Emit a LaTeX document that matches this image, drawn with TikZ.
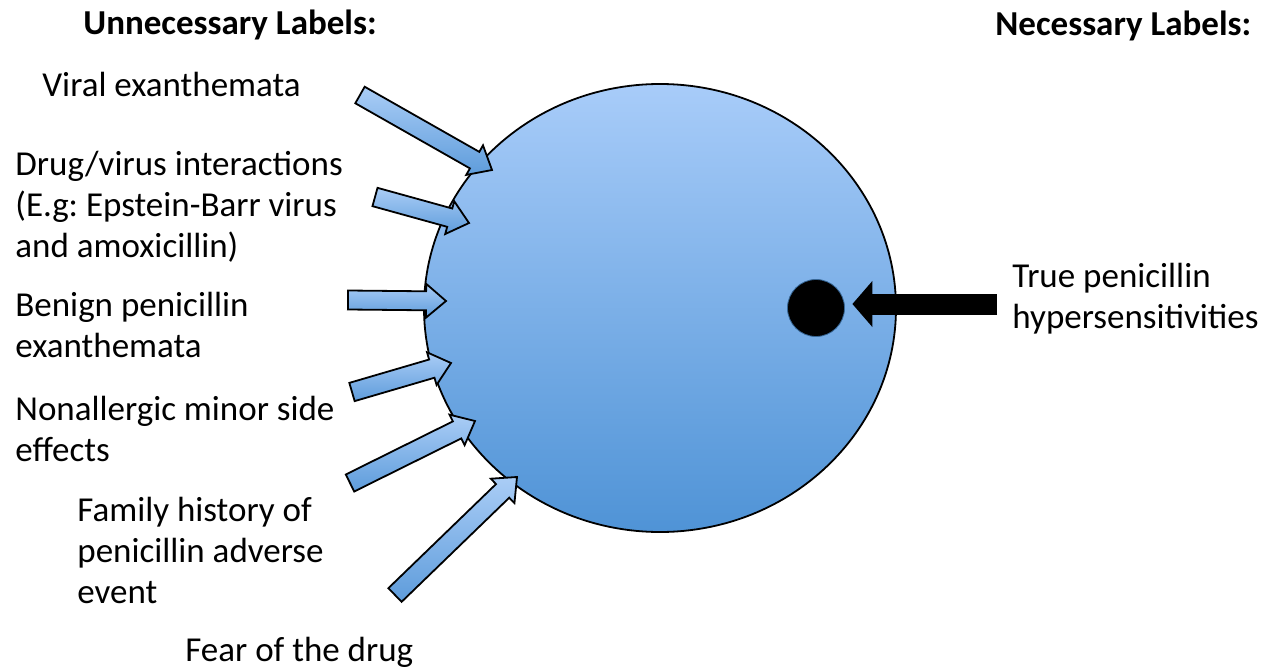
\documentclass[tikz,border=0pt]{standalone}
\usepackage{fontspec}
\setmainfont{Carlito}
\usepackage{xcolor}
\usepackage{tikz}
\usetikzlibrary{arrows.meta,positioning,calc,shapes.geometric}
\definecolor{balltop}{HTML}{A8CCF9}
\definecolor{ballbot}{HTML}{4F93D6}
\definecolor{arrtop}{HTML}{AACDF6}
\definecolor{arrbot}{HTML}{5E9CDB}
\frenchspacing
\tikzset{
  lbl/.style={anchor=base west,inner sep=0pt,align=left,font=\fontsize{17.5}{20.5}\selectfont},
  bluearr/.style={top color=arrtop,bottom color=arrbot,draw=black,line width=0.9pt,line join=miter}
}
\newcommand{\bluearrow}[2]{%
  \coordinate (nk) at ($(#2)!10pt!(#1)$);
  \shadedraw[bluearr] ($(#1)!4.75pt!90:(#2)$) -- ($(nk)!4.75pt!90:(#2)$) -- ($(nk)!8.5pt!90:(#2)$)
    -- (#2) -- ($(nk)!8.5pt!-90:(#2)$) -- ($(nk)!4.75pt!-90:(#2)$) -- ($(#1)!4.75pt!-90:(#2)$) -- cycle;
}

\begin{document}
\begin{tikzpicture}[x=0.5pt,y=-0.5pt,>=Latex]
        \useasboundingbox (0,0) rectangle (1276,669);
        \node[lbl,font=\fontsize{17.5}{20.5}\selectfont\bfseries] (unnec) at (83,34) {Unnecessary Labels:};
        \node[lbl,font=\fontsize{17.5}{20.5}\selectfont\bfseries] (nec) at (995,35) {Necessary Labels:};
        \node[lbl] (viral) at (42,97) {Viral exanthemata};
        \node[lbl] (drug) at (15,257) {Drug/virus interactions\\(E.g: Epstein-Barr virus\\and amoxicillin)};
        \node[lbl] (benign) at (15,357) {Benign penicillin\\exanthemata};
        \node[lbl] (nonall) at (15,461) {Nonallergic minor side\\effects};
        \node[lbl] (family) at (77,603) {Family history of\\penicillin adverse\\event};
        \node[lbl] (fear) at (185,661) {Fear of the drug};
        \node[lbl] (truepen) at (1012,328) {True penicillin\\hypersensitivities};

        \node[ellipse,draw,line width=0.9pt,top color=balltop,bottom color=ballbot,minimum width=236pt,minimum height=224pt] (ball) at (660,308) {};
        \node[circle,fill=black,draw=ballbot!70!black,minimum size=28.5pt,inner sep=0pt] (dot) at (816,308) {};

        \coordinate (t1) at (360,95);  \coordinate (h1) at (492,170);
        \coordinate (t2) at (375,197); \coordinate (h2) at (469,223);
        \coordinate (t3) at (348,300); \coordinate (h3) at (446,301);
        \coordinate (t4) at (352,392); \coordinate (h4) at (451,363);
        \coordinate (t5) at (350,483); \coordinate (h5) at (475,421);
        \coordinate (t6) at (395,595); \coordinate (h6) at (517,477);
        \foreach \i in {1,...,6} {\bluearrow{t\i}{h\i}}

        \coordinate (tt) at (997,304);
        \draw[-{Triangle[length=10pt,width=22.5pt]},line width=10.5pt,shorten >=3.75pt] (tt) -- (dot.east |- tt);
      \end{tikzpicture}
\end{document}
